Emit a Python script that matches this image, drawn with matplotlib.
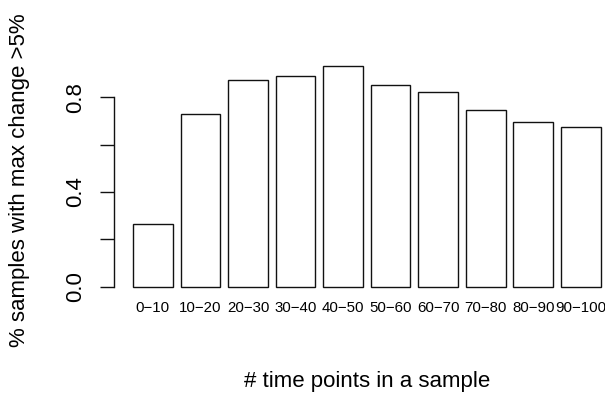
import matplotlib
matplotlib.use("Agg")
import matplotlib.pyplot as plt

plt.rcParams["font.family"] = ["Liberation Sans", "DejaVu Sans"]

categories = ["0\u221210", "10\u221220", "20\u221230", "30\u221240", "40\u221250",
              "50\u221260", "60\u221270", "70\u221280", "80\u221290", "90\u2212100"]
fractions = [0.265, 0.731, 0.875, 0.891, 0.934, 0.853, 0.824, 0.748, 0.697, 0.675]
yticks = [0.0, 0.2, 0.4, 0.6, 0.8]
ytick_labels = ["0.0", "", "0.4", "", "0.8"]


def main():
    W, H = 605, 395
    fig = plt.figure(figsize=(W / 100, H / 100), dpi=100)

    # R-style plot region (extends a bit past the right edge like the original)
    left, right, bottom, top = 114.3, 619.4, 295.5, 56.9
    ax = fig.add_axes([left / W, 1 - bottom / H, (right - left) / W, (bottom - top) / H])

    # R barplot layout: width 1, space 0.2
    x = [0.7 + 1.2 * i for i in range(len(fractions))]
    ax.bar(x, fractions, width=1.0, color="white", edgecolor="#111111", linewidth=1.0)

    ymax = max(fractions)
    ax.set_xlim(0.2 - 0.04 * 11.8, 12.0 + 0.04 * 11.8)
    ax.set_ylim(-0.04 * ymax, 1.04 * ymax)

    for s in ["top", "right", "bottom"]:
        ax.spines[s].set_visible(False)
    ax.spines["left"].set_bounds(0, 0.8)
    ax.spines["left"].set_linewidth(1.0)
    ax.spines["left"].set_color("#111111")

    ax.set_yticks(yticks)
    ax.set_yticklabels(ytick_labels, rotation=90, va="center", fontsize=16)
    ax.tick_params(axis="y", length=10, width=1.0, color="#111111", pad=10)

    ax.set_xticks(x)
    ax.set_xticklabels(categories, fontsize=10.8)
    ax.tick_params(axis="x", length=0, pad=4)

    fig.text(20 / W, 1 - 180 / H, "% samples with max change >5%", rotation=90,
             ha="center", va="center", fontsize=16)
    fig.text(366.9 / W, 1 - 382 / H, "# time points in a sample",
             ha="center", va="center", fontsize=16)

    fig.savefig("out.png", dpi=100)


if __name__ == "__main__":
    main()
